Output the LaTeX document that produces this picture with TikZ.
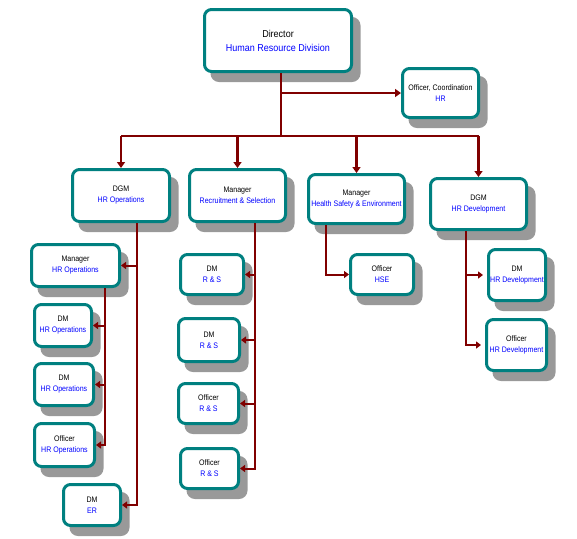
\documentclass[tikz,border=0pt]{standalone}
\usepackage{fontspec}
\setmainfont{Liberation Sans}
\newfontfamily\nodefont[FakeStretch=0.88]{Liberation Sans}
\newfontfamily\dirfont[FakeStretch=0.9]{Liberation Sans}
\usetikzlibrary{arrows.meta,shadows,calc}
\definecolor{boxteal}{HTML}{008080}
\definecolor{conred}{HTML}{800000}
\definecolor{shgray}{HTML}{999999}
\begin{document}
\begin{tikzpicture}[x=1pt,y=-1pt,
  box/.style={draw=boxteal, line width=3pt, rounded corners=7pt, fill=white,
    inner sep=0pt, align=center, font=\nodefont\fontsize{8}{11}\selectfont,
    drop shadow={shadow xshift=7.5pt, shadow yshift=-9pt, fill=shgray, draw=shgray, opacity=1}},
  dirbox/.style={box, font=\dirfont\fontsize{10}{14}\selectfont},
  conn/.style={draw=conred, line width=2pt},
  topconn/.style={draw=conred, line width=2.8pt},
  arr/.style={conn, -{Triangle[length=5pt,width=7pt]}},
  toparr/.style={topconn, -{Triangle[length=6pt,width=8pt]}},
  sub/.style={text=blue}
]
\useasboundingbox (0,0) rectangle (577,538);

% nodes (centre, outer size minus border width)
\node[dirbox, minimum width=147pt, minimum height=62pt] (dir) at (278,40.5) {Director\\\textcolor{blue}{Human Resource Division}};
\node[box, minimum width=76pt, minimum height=49pt] (coord) at (440.5,93) {Officer, Coordination\\\textcolor{blue}{HR}};

\node[box, minimum width=97pt, minimum height=52pt] (dgm1) at (121,195.5) {DGM\\\textcolor{blue}{HR Operations}};
\node[box, minimum width=96pt, minimum height=52pt] (mrs) at (237.5,195.5) {Manager\\\textcolor{blue}{Recruitment \& Selection}};
\node[box, minimum width=96pt, minimum height=49pt] (mhse) at (356.5,199) {Manager\\\textcolor{blue}{Health Safety \& Environment}};
\node[box, minimum width=96pt, minimum height=51pt] (dgm2) at (478.5,204) {DGM\\\textcolor{blue}{HR Development}};

\node[box, minimum width=88pt, minimum height=42pt] (mhro) at (75.5,265.5) {Manager\\\textcolor{blue}{HR Operations}};
\node[box, minimum width=57pt, minimum height=42pt] (dmo1) at (63,325.5) {DM\\\textcolor{blue}{HR Operations}};
\node[box, minimum width=59pt, minimum height=42pt] (dmo2) at (64,384.5) {DM\\\textcolor{blue}{HR Operations}};
\node[box, minimum width=60pt, minimum height=43pt] (ofo) at (64.5,445) {Officer\\\textcolor{blue}{HR Operations}};
\node[box, minimum width=57pt, minimum height=41pt] (dmer) at (92,505) {DM\\\textcolor{blue}{ER}};

\node[box, minimum width=63pt, minimum height=40pt] (dmrs1) at (212,274.5) {DM\\\textcolor{blue}{R \& S}};
\node[box, minimum width=61pt, minimum height=43pt] (dmrs2) at (209,340) {DM\\\textcolor{blue}{R \& S}};
\node[box, minimum width=60pt, minimum height=40pt] (ofrs1) at (208.5,403.5) {Officer\\\textcolor{blue}{R \& S}};
\node[box, minimum width=58pt, minimum height=40pt] (ofrs2) at (209.5,468.5) {Officer\\\textcolor{blue}{R \& S}};

\node[box, minimum width=63pt, minimum height=40pt] (ofhse) at (382,274.5) {Officer\\\textcolor{blue}{HSE}};

\node[box, minimum width=57pt, minimum height=51pt] (dmdev) at (517,275) {DM\\\textcolor{blue}{HR Development}};
\node[box, minimum width=60pt, minimum height=51pt] (ofdev) at (516.5,345) {Officer\\\textcolor{blue}{HR Development}};

% named stem points
\coordinate (dstem) at ($(dir.south)+(3,0)$);
\coordinate (bus) at ($(dir.south)+(3,63)$);
\coordinate (s1) at ($(dgm1.south)+(16,0)$);
\coordinate (s2) at ($(mhro.south)+(29.5,0)$);
\coordinate (s3) at ($(mrs.south)+(17.5,0)$);
\coordinate (s4) at ($(mhse.south)+(-30.5,0)$);
\coordinate (s5) at ($(dgm2.south)+(-12.5,0)$);

% top level
\draw[topconn] (dstem) -- (bus);
\draw[toparr] (dstem |- coord.west) -- (coord.west);
\draw[topconn] (bus -| dgm1.north) -- (bus -| dgm2.north);
\draw[toparr] (bus -| dgm1.north) -- (dgm1.north);
\draw[toparr] (bus -| mrs.north) -- (mrs.north);
\draw[toparr] (bus -| mhse.north) -- (mhse.north);
\draw[toparr] (bus -| dgm2.north) -- (dgm2.north);

% HR operations
\draw[arr] (s1) |- (mhro.east);
\draw[arr] (s1) |- (dmer.east);
\draw[arr] (s2) |- (dmo1.east);
\draw[arr] (s2) |- (dmo2.east);
\draw[arr] (s2) |- (ofo.east);

% recruitment & selection
\draw[arr] (s3) |- (dmrs1.east);
\draw[arr] (s3) |- (dmrs2.east);
\draw[arr] (s3) |- (ofrs1.east);
\draw[arr] (s3) |- (ofrs2.east);

% HSE
\draw[arr] (s4) |- (ofhse.west);

% HR development
\draw[arr, shorten >=4pt] (s5) |- (dmdev.west);
\draw[arr, shorten >=4pt] (s5) |- (ofdev.west);
\end{tikzpicture}
\end{document}
